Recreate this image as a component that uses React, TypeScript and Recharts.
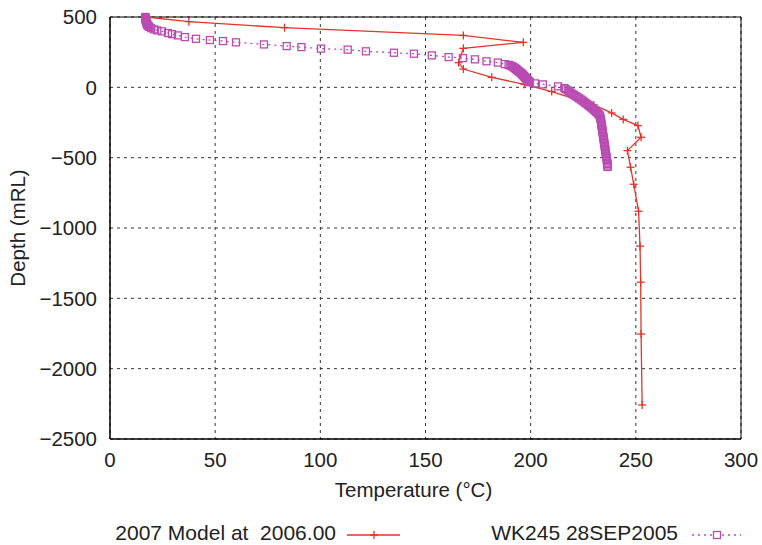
import React from 'react';
import { ScatterChart, Scatter, XAxis, YAxis, CartesianGrid, ReferenceArea, Label } from 'recharts';

const RED = '#e3342a';
const PINK = '#b94bb2';
const FONT = '"Liberation Sans", Arial, Helvetica, sans-serif';

const tempTicks = [0, 50, 100, 150, 200, 250, 300];
const depthTicks = [-2500, -2000, -1500, -1000, -500, 0, 500];

// 2007 Model at 2006.00
const modelTemp = [17, 37.5, 83, 168, 196.5, 168, 165.7, 168, 181.5, 197, 210, 230, 238.5, 244, 251, 252.5, 246, 247.5, 249, 251.3, 252, 252.3, 252.5, 253];
const modelDepth = [500, 467, 424, 369, 320, 277, 175, 130, 71, 21, -30, -125, -182, -228, -272, -355, -450, -568, -689, -881, -1129, -1385, -1754, -2258];

// WK245 28SEP2005
const wellTemp = [
  16.8, 16.8, 16.9, 17, 17, 17.1, 17.2, 17.3, 17.4, 17.5, 17.6, 17.8, 18, 18.3, 18.7, 19.6,
  21, 22.5, 24.7, 27.6, 29.5, 32.3, 35.6, 40.9, 47.5, 53.7, 59.9, 73.2, 84, 91, 100.3, 113,
  121.7, 135, 144.5, 153, 161, 167.8, 173.5, 179, 184.4, 187.7,
  189.5, 190.3, 191, 191.6, 192.2, 192.6, 193, 193.4, 193.8, 194.2, 194.7, 195.1, 195.5,
  195.9, 196.2, 196.5, 196.8, 197.1, 197.4, 197.7, 198, 198.3, 198.6, 199, 199.3, 199.6,
  202, 205.8, 213,
  216, 216.7, 217.6, 218.3, 219, 219.8, 220.6, 221.4, 222.2, 223, 223.8, 224.6, 225.3,
  226, 226.7, 227.4, 228, 228.7, 229.4, 230, 230.6, 231.2, 231.8, 232.3, 232.7,
  233, 233.1, 233.3, 233.4, 233.5, 233.6, 233.7, 233.8, 233.9, 234, 234.1, 234.2, 234.3,
  234.4, 234.5, 234.6, 234.7, 234.8, 234.9, 235, 235.1, 235.2, 235.3, 235.4, 235.5, 235.6,
  235.7, 235.8, 235.9, 236, 236.1, 236.2, 236.3, 236.4, 236.5, 236.5, 236.6,
];
const wellDepth = [
  500, 495, 490, 485, 480, 475, 470, 465, 460, 455, 450, 445, 440, 435, 430, 420,
  412, 405, 398, 386, 378, 369, 357, 345, 336, 329, 320, 305, 293, 286, 275, 268,
  256, 246, 239, 227, 215, 208, 199, 185, 176, 165,
  160, 155, 150, 145, 140, 135, 130, 125, 120, 115, 110, 105, 100,
  95, 90, 85, 80, 75, 70, 65, 60, 55, 50, 45, 40, 36,
  28, 21, 7,
  -5, -14, -22, -30, -38, -46, -54, -62, -70, -78, -86, -94, -102,
  -110, -118, -126, -134, -142, -150, -158, -166, -174, -182, -190, -198,
  -206, -216, -226, -236, -246, -256, -266, -276, -286, -296, -306, -316, -326,
  -336, -346, -356, -366, -376, -386, -396, -406, -416, -426, -436, -446, -456,
  -466, -476, -486, -496, -506, -516, -526, -536, -546, -556, -566,
];

const modelData = modelTemp.map((t, i) => ({ t, d: modelDepth[i] }));
const wellData = wellTemp.map((t, i) => ({ t, d: wellDepth[i] }));

const fmtDepth = (v: number) => (v < 0 ? '\u2212' + Math.abs(v) : String(v));

const Cross = (p: any) => (
  <g stroke={RED} strokeWidth={1.3}>
    <line x1={p.cx - 4} x2={p.cx + 4} y1={p.cy} y2={p.cy} />
    <line x1={p.cx} x2={p.cx} y1={p.cy - 4} y2={p.cy + 4} />
  </g>
);

const Box = (p: any) => (
  <rect x={p.cx - 3.5} y={p.cy - 3.5} width={7} height={7} fill="none" stroke={PINK} strokeWidth={1.3} />
);

export default function App() {
  return (
    <div style={{ position: 'absolute', left: 0, top: 0, width: 762, height: 545, background: '#fff', fontFamily: FONT }}>
      <ScatterChart width={762} height={545} margin={{ top: 17, right: 21, bottom: 76, left: 10 }}>
        <CartesianGrid stroke="#333" strokeDasharray="3 4" />
        <XAxis
          dataKey="t"
          type="number"
          domain={[0, 300]}
          ticks={tempTicks}
          tickLine={false}
          tickMargin={7}
          axisLine={{ stroke: '#000' }}
          tick={{ fontSize: 20.5, fill: '#222' }}
          height={30}
        >
          <Label value="Temperature (°C)" position="bottom" offset={13} dx={-12} style={{ fontSize: 20.5, fill: '#222' }} />
        </XAxis>
        <YAxis
          dataKey="d"
          type="number"
          domain={[-2500, 500]}
          ticks={depthTicks}
          tickFormatter={fmtDepth}
          tickLine={false}
          tickMargin={7}
          axisLine={{ stroke: '#000' }}
          tick={{ fontSize: 20.5, fill: '#222' }}
          width={100}
        >
          <Label value="Depth (mRL)" angle={-90} position="insideLeft" offset={8} style={{ fontSize: 20.5, fill: '#222', textAnchor: 'middle' }} />
        </YAxis>
        <ReferenceArea x1={0} x2={300} y1={-2500} y2={500} fill="none" stroke="#000" strokeWidth={1} />
        <Scatter
          name="2007 Model at  2006.00"
          data={modelData}
          line={{ stroke: RED, strokeWidth: 1.3 }}
          lineType="joint"
          shape={Cross}
          isAnimationActive={false}
        />
        <Scatter
          name="WK245 28SEP2005"
          data={wellData}
          line={{ stroke: PINK, strokeWidth: 1.3, strokeDasharray: '2 4' }}
          lineType="joint"
          shape={Box}
          isAnimationActive={false}
        />
      </ScatterChart>
      <svg width={762} height={40} style={{ position: 'absolute', left: 0, top: 505 }}>
        <text x={336} y={35} textAnchor="end" fontSize={21} fill="#222" style={{ whiteSpace: 'pre' }}>
          2007 Model at  2006.00
        </text>
        <line x1={347} x2={400} y1={30} y2={30} stroke={RED} strokeWidth={1.3} />
        <line x1={370} x2={378} y1={30} y2={30} stroke={RED} strokeWidth={1.3} />
        <line x1={374} x2={374} y1={26} y2={34} stroke={RED} strokeWidth={1.3} />
        <text x={678} y={35} textAnchor="end" fontSize={21} fill="#222">
          WK245 28SEP2005
        </text>
        <line x1={692} x2={741} y1={30} y2={30} stroke={PINK} strokeWidth={1.3} strokeDasharray="2 4" />
        <rect x={713.5} y={26.5} width={7} height={7} fill="#fff" stroke={PINK} strokeWidth={1.3} />
      </svg>
    </div>
  );
}
